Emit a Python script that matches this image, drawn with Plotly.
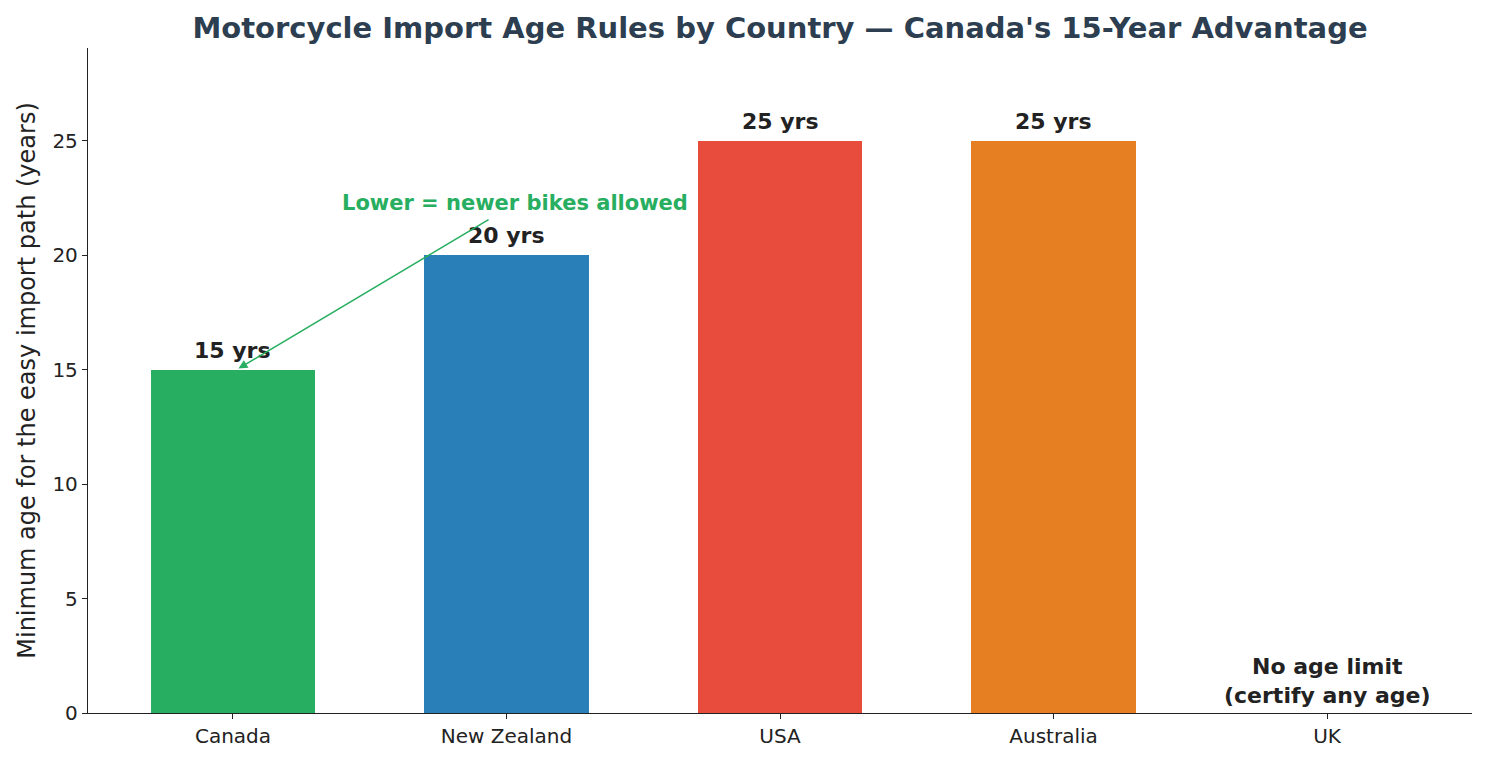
import plotly.graph_objects as go

countries = ["Canada", "New Zealand", "USA", "Australia", "UK"]
min_age = [15, 20, 25, 25, 0]
bar_labels = ["15 yrs", "20 yrs", "25 yrs", "25 yrs", "No age limit<br>(certify any age)"]
bar_colors = ["#27ae60", "#2980b9", "#e74c3c", "#e67e22", "#95a5a6"]
y_ticks = [0, 5, 10, 15, 20, 25]

FONT = "DejaVu Sans"

fig = go.Figure()
fig.add_trace(go.Bar(
    x=list(range(len(countries))),
    y=min_age,
    width=0.6,
    marker=dict(color=bar_colors, line=dict(width=0)),
    hoverinfo="skip",
))

# value labels above bars
for i, (v, lab) in enumerate(zip(min_age, bar_labels)):
    fig.add_annotation(
        x=i, y=v + 0.22 if v > 0 else 0.15, text="<b>%s</b>" % lab,
        showarrow=False, yanchor="bottom", xanchor="center",
        font=dict(family=FONT, size=22, color="#222222"),
    )

# callout arrow pointing at Canada
fig.add_annotation(
    x=0.02, y=15.05, ax=0.94, ay=21.6,
    xref="x", yref="y", axref="x", ayref="y",
    text="", showarrow=True, arrowhead=2, arrowsize=1.2, arrowwidth=1.5,
    arrowcolor="#27ae60",
)
fig.add_annotation(
    x=1.03, y=22.3, text="<b>Lower = newer bikes allowed</b>",
    showarrow=False, xanchor="center", yanchor="middle",
    font=dict(family=FONT, size=21, color="#27ae60"),
)

# page body has an 8px margin, so the figure is a bit smaller and shifted
fig.update_layout(
    width=1470, height=747,
    paper_bgcolor="white", plot_bgcolor="white",
    margin=dict(l=80, r=6, t=40, b=42),
    showlegend=False,
    bargap=0,
    title=dict(
        text="<b>Motorcycle Import Age Rules by Country \u2014 Canada's 15-Year Advantage</b>",
        x=0.5, xanchor="center", xref="paper",
        y=1 - 20 / 747, yanchor="middle", yref="container",
        font=dict(family=FONT, size=29, color="#2c3e50"),
    ),
    font=dict(family=FONT, size=20, color="#222222"),
)
fig.update_xaxes(
    range=[-0.53, 4.53],
    tickmode="array", tickvals=list(range(len(countries))), ticktext=countries,
    showline=True, linecolor="#222222", linewidth=1.3,
    ticks="outside", ticklen=5, tickcolor="#222222",
    showgrid=False, zeroline=False, automargin=False,
    tickfont=dict(family=FONT, size=20, color="#222222"),
)
fig.update_yaxes(
    range=[0, 29.06],
    tickmode="array", tickvals=y_ticks,
    showline=True, linecolor="#222222", linewidth=1.3,
    ticks="outside", ticklen=5, tickcolor="#222222",
    showgrid=False, zeroline=False, automargin=False,
    tickfont=dict(family=FONT, size=20, color="#222222"),
    title=dict(text="Minimum age for the easy import path (years)",
               font=dict(family=FONT, size=24, color="#222222"), standoff=9),
)

fig.write_html("out.html")
